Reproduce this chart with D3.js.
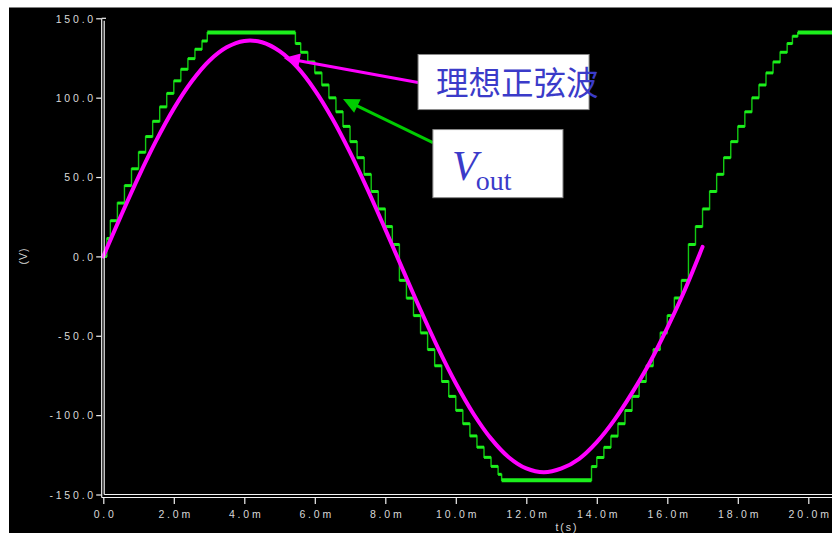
<!DOCTYPE html>
<html>
<head>
<meta charset="utf-8">
<script src="https://cdn.jsdelivr.net/npm/d3@7"></script>
<style>
  html, body { margin: 0; padding: 0; background: #ffffff; }
  svg { display: block; }
</style>
</head>
<body>
<svg id="chart" width="832" height="533"></svg>
<script>
// ---------- data ----------
const xTickValues = [0, 2, 4, 6, 8, 10, 12, 14, 16, 18, 20];
const xTickLabels = ["0.0", "2.0m", "4.0m", "6.0m", "8.0m", "10.0m", "12.0m", "14.0m", "16.0m", "18.0m", "20.0m"];
const yTickValues = [150, 100, 50, 0, -50, -100, -150];
const yTickLabels = ["150.0", "100.0", "50.0", "0.0", "-50.0", "-100.0", "-150.0"];

// Vout: staircase output (time in ms, volts), level held until next time
const greenT = [0, 0.1, 0.2, 0.4, 0.6, 0.8, 1.0, 1.2, 1.4, 1.6, 1.8, 2.0, 2.2, 2.4, 2.6, 2.8, 2.95,
  5.45, 5.6, 5.8, 6.0, 6.2, 6.4, 6.6, 6.8, 7.0, 7.2, 7.4, 7.6, 7.8, 8.0, 8.2,
  8.4, 8.6, 8.8, 9.0, 9.2, 9.4, 9.6, 9.8, 10.0, 10.2, 10.4, 10.6, 10.8, 11.0, 11.2, 11.3,
  13.85, 14.0, 14.2, 14.4, 14.6, 14.8, 15.0, 15.2, 15.4, 15.6, 15.8, 16.0, 16.2, 16.4,
  16.6, 16.8, 17.0, 17.2, 17.4, 17.6, 17.8, 18.0, 18.2, 18.4, 18.6, 18.8, 19.0, 19.2, 19.4, 19.55, 19.7, 20.7];
const greenV = [0, 11.3, 22.5, 33.6, 44.6, 55.2, 65.6, 75.5, 85.1, 94.2, 102.7, 110.6, 117.9, 124.6, 130.5, 135.7, 141,
  134.1, 128.6, 122.5, 115.6, 108.0, 99.9, 91.1, 81.9, 72.3, 62.2, 51.7, 40.9, 29.9, 18.8, 7.5,
  -15.1, -26.3, -37.3, -48.2, -58.7, -68.9, -78.8, -88.2, -97.0, -105.4, -113.1, -120.2, -126.6, -132.3, -137.3, -141,
  -132.4, -126.7, -120.3, -113.2, -105.4, -97.1, -88.2, -78.8, -68.9, -58.7, -48.2, -37.3, -26.2, -15.1,
  7.5, 18.8, 29.9, 40.9, 51.7, 62.2, 72.3, 81.9, 91.1, 99.9, 108.0, 115.6, 122.5, 128.6, 134.1, 138.7, 141, 141];

// ideal sine wave (magenta)
const magT = [0, 0.5, 1, 1.5, 2, 2.5, 3, 3.5, 4, 4.5, 5, 5.5, 6, 6.5, 7, 7.5, 8, 8.5, 9, 9.5,
  10, 10.5, 11, 11.5, 12, 12.5, 13, 13.5, 14, 14.5, 15, 15.5, 16, 16.5, 17];
const magV = [0, 25.5, 50.1, 72.9, 93.1, 110.0, 123.1, 131.7, 135.7, 134.9, 129.3, 119.2, 104.8, 86.7, 65.5, 42.0, 17.0, -8.5, -33.8, -57.9,
  -79.9, -99.1, -114.8, -126.5, -133.6, -136, -133.6, -127.5, -117, -103, -86, -67, -45, -21, 6];

// annotation texts
const labelIdeal = "理想正弦波";
const labelVout = "V";
const labelVoutSub = "out";
const xTitle = "t(s)";
const yTitle = "(V)";

// ---------- drawing ----------
const svg = d3.select("#chart");
const x = d3.scaleLinear().domain([0, 20]).range([103.3, 808.3]);
const y = d3.scaleLinear().domain([-150, 150]).range([494.5, 18.3]);

const axisColor = "#f2f2f2";
const textColor = "#d9d9d9";
const tickFont = "'Liberation Sans', Arial, sans-serif";
const ls = 2.8;

// black panel
svg.append("rect").attr("x", 9).attr("y", 7.5).attr("width", 823).attr("height", 526).attr("fill", "#000");

// clip for traces
svg.append("clipPath").attr("id", "plotclip").append("rect")
  .attr("x", 105).attr("y", 10).attr("width", 727).attr("height", 484);

// ---- green staircase ----
const gData = greenT.map((t, i) => ({ t, v: greenV[i] }));
const stepLine = d3.line().x(d => x(d.t)).y(d => y(d.v)).curve(d3.curveStepAfter);
const traces = svg.append("g").attr("clip-path", "url(#plotclip)");
traces.append("path").datum(gData).attr("d", stepLine)
  .attr("fill", "none").attr("stroke", "#12c812").attr("stroke-width", 1.4);
// thicker horizontal segments
traces.selectAll("line.flat").data(gData.slice(0, gData.length - 1)).enter().append("line")
  .attr("class", "flat")
  .attr("x1", (d) => x(d.t))
  .attr("x2", (d, i) => x(gData[i + 1].t))
  .attr("y1", d => y(d.v)).attr("y2", d => y(d.v))
  .attr("stroke", "#1cf01c").attr("stroke-width", d => Math.abs(d.v) >= 141 ? 4 : 3);

// ---- magenta ideal sine ----
const mData = magT.map((t, i) => ({ t, v: magV[i] }));
const smooth = d3.line().x(d => x(d.t)).y(d => y(d.v)).curve(d3.curveCatmullRom.alpha(0.5));
svg.append("path").datum(mData).attr("d", smooth)
  .attr("fill", "none").attr("stroke", "#ff00ff").attr("stroke-width", 4).attr("stroke-linecap", "round");

// ---- axes ----
const yAxis = d3.axisLeft(y).tickValues(yTickValues).tickFormat((d, i) => yTickLabels[i]).tickSize(5).tickPadding(3);
const gy = svg.append("g").attr("transform", "translate(101.2,0)").call(yAxis);
gy.select(".domain").remove();
gy.selectAll(".tick line").attr("stroke", axisColor).attr("stroke-width", 1.2);
gy.selectAll(".tick text").attr("fill", textColor).attr("font-family", tickFont).attr("font-size", "10.5px")
  .attr("letter-spacing", ls + "px").attr("x", -8 + ls).attr("dy", "0.36em");

const xAxis = d3.axisBottom(x).tickValues(xTickValues).tickFormat((d, i) => xTickLabels[i]).tickSize(6).tickPadding(7);
const gx = svg.append("g").attr("transform", "translate(0,498)").call(xAxis);
gx.select(".domain").remove();
gx.selectAll(".tick line").attr("stroke", axisColor).attr("stroke-width", 1.2);
gx.selectAll(".tick text").attr("fill", textColor).attr("font-family", tickFont).attr("font-size", "10.5px")
  .attr("letter-spacing", ls + "px").attr("x", ls / 2);

// double frame lines
const frame = svg.append("g").attr("stroke", axisColor).attr("stroke-width", 1.2).attr("fill", "none");
frame.append("line").attr("x1", 101.7).attr("x2", 101.7).attr("y1", y(150)).attr("y2", 497.5);
frame.append("line").attr("x1", 104.2).attr("x2", 104.2).attr("y1", y(150) + 2.5).attr("y2", y(-150));
frame.append("line").attr("x1", 101.7).attr("x2", 106).attr("y1", y(150)).attr("y2", y(150));
frame.append("line").attr("x1", 104.2).attr("x2", 832).attr("y1", y(-150)).attr("y2", y(-150));
frame.append("line").attr("x1", 101.7).attr("x2", 832).attr("y1", 497.5).attr("y2", 497.5);

// axis titles
svg.append("text").attr("x", 566 + 1).attr("y", 531).attr("text-anchor", "middle")
  .attr("fill", textColor).attr("font-family", tickFont).attr("font-size", "10.5px").attr("letter-spacing", "2px")
  .text(xTitle);
svg.append("text").attr("transform", "translate(27,256) rotate(-90)").attr("text-anchor", "middle")
  .attr("fill", textColor).attr("font-family", tickFont).attr("font-size", "10.5px").attr("letter-spacing", "1px")
  .text(yTitle);

// ---- annotations ----
function arrow(tip, tail, color, len, half) {
  const x1 = x(tail[0]), y1 = y(tail[1]), x2 = x(tip[0]), y2 = y(tip[1]);
  const dx = x2 - x1, dy = y2 - y1, L = Math.hypot(dx, dy);
  const ux = dx / L, uy = dy / L;
  const bx = x2 - ux * len, by = y2 - uy * len;
  svg.append("line").attr("x1", x1).attr("y1", y1).attr("x2", bx + ux * 2).attr("y2", by + uy * 2)
    .attr("stroke", color).attr("stroke-width", 3);
  svg.append("polygon")
    .attr("points", [[x2, y2], [bx - uy * half, by + ux * half], [bx + uy * half, by - ux * half]].map(p => p.join(",")).join(" "))
    .attr("fill", color);
}
arrow([5.12, 125.0], [8.93, 109.6], "#ff00ff", 16, 7.5);
arrow([6.80, 99.2], [9.35, 71.7], "#00cc00", 16, 7.5);

// label boxes
svg.append("rect").attr("x", x(8.93)).attr("y", y(127.2))
  .attr("width", x(13.78) - x(8.93)).attr("height", y(92.5) - y(127.2))
  .attr("fill", "#fff").attr("stroke", "#8a8a8a").attr("stroke-width", 1);
svg.append("text").attr("x", 436).attr("y", 95)
  .attr("fill", "#3b3bc9").attr("font-family", "'Noto Sans CJK SC', sans-serif").attr("font-size", "32.5px")
  .text(labelIdeal);

svg.append("rect").attr("x", x(9.35)).attr("y", y(79.9))
  .attr("width", x(13.04) - x(9.35)).attr("height", y(37.0) - y(79.9))
  .attr("fill", "#fff").attr("stroke", "#8a8a8a").attr("stroke-width", 1);
const vt = svg.append("text").attr("x", 452).attr("y", 180)
  .attr("fill", "#3b3bc9").attr("font-family", "'Liberation Serif', 'Times New Roman', serif");
vt.append("tspan").attr("font-size", "42px").attr("font-style", "italic").text(labelVout);
vt.append("tspan").attr("font-size", "28px").attr("dx", "-2").attr("dy", "10").text(labelVoutSub);
</script>
</body>
</html>
